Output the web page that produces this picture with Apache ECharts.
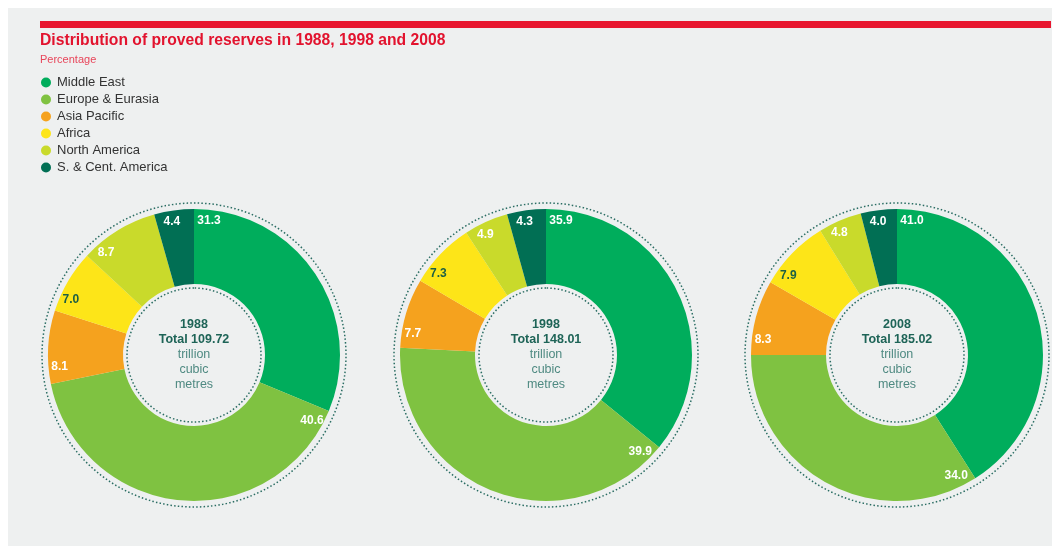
<!DOCTYPE html>
<html>
<head>
<meta charset="utf-8">
<script src="https://cdn.jsdelivr.net/npm/echarts@6/dist/echarts.min.js"></script>
<style>
  html, body { margin: 0; padding: 0; background: #ffffff; }
  #chart { width: 1060px; height: 546px; }
</style>
</head>
<body>
<div id="chart"></div>
<script>
// data
const regions = ['Middle East', 'Europe & Eurasia', 'Asia Pacific', 'Africa', 'North America', 'S. & Cent. America'];
const years = ['1988', '1998', '2008'];
const totals = ['109.72', '148.01', '185.02'];
const share1988 = [31.3, 40.6, 8.1, 7.0, 8.7, 4.4];
const share1998 = [35.9, 39.9, 7.7, 7.3, 4.9, 4.3];
const share2008 = [41.0, 34.0, 8.3, 7.9, 4.8, 4.0];
const shares = [share1988, share1998, share2008];

// look
const colors = ['#00ad5c', '#7fc241', '#f5a21e', '#fde518', '#c9da2b', '#016f54'];
const labelColors = ['#fff', '#fff', '#fff', '#1d5f45', '#fff', '#fff'];
const centers = [[194, 355], [546, 355], [897, 355]];
const rIn = 71, rOut = 146;

const mychart = echarts.init(document.getElementById('chart'));

// label sits just inside the outer edge, next to the slice's start boundary
function labelPos(si, di) {
    const vals = shares[si];
    const total = vals.reduce((a, b) => a + b, 0);
    let cum = 0;
    for (let i = 0; i < di; i++) cum += vals[i];
    const t = cum / total * 2 * Math.PI;
    const r = 134, d = 15;
    const c = centers[si];
    return {
        x: c[0] + r * Math.sin(t) + d * Math.cos(t),
        y: c[1] - r * Math.cos(t) + d * Math.sin(t)
    };
}

const series = [];
shares.forEach(function (vals, si) {
    series.push({
        type: 'pie',
        name: years[si],
        center: centers[si],
        radius: [rIn, rOut],
        startAngle: 90,
        clockwise: true,
        silent: true,
        itemStyle: { borderWidth: 0 },
        label: {
            show: true,
            position: 'inside',
            fontFamily: 'Liberation Sans',
            fontSize: 12,
            fontWeight: 'bold',
            formatter: p => p.value.toFixed(1)
        },
        labelLine: { show: false },
        labelLayout: function (params) {
            const p = labelPos(si, params.dataIndex);
            return { x: p.x, y: p.y, align: 'center', verticalAlign: 'middle' };
        },
        data: vals.map((v, i) => ({
            name: regions[i],
            value: v,
            itemStyle: { color: colors[i] },
            label: { color: labelColors[i] }
        }))
    });
});

// dotted rings + centre text
years.forEach(function (y, si) {
    series.push({
        type: 'pie',
        center: centers[si],
        radius: [67, 152],
        silent: true,
        z: 1,
        itemStyle: {
            color: 'rgba(0,0,0,0)',
            borderColor: '#2a6d63',
            borderWidth: 1.5,
            borderType: [1.5, 2.2]
        },
        label: {
            show: true,
            position: 'center',
            formatter: '{b|' + y + '}\n{b|Total ' + totals[si] + '}\n{n|trillion}\n{n|cubic}\n{n|metres}',
            rich: {
                b: { fontFamily: 'Liberation Sans', fontSize: 12.5, fontWeight: 'bold', color: '#1e6457', lineHeight: 15 },
                n: { fontFamily: 'Liberation Sans', fontSize: 12.5, color: '#4f8a82', lineHeight: 15 }
            }
        },
        labelLine: { show: false },
        emphasis: { disabled: true },
        data: [{ name: 'ring' + y, value: 1 }]
    });
});

mychart.setOption({
    animation: false,
    backgroundColor: '#ffffff',
    graphic: [
        { type: 'rect', z: -10, shape: { x: 8, y: 8, width: 1044, height: 538 }, style: { fill: '#eef0f0' } },
        { type: 'rect', z: -5, shape: { x: 40, y: 21, width: 1011, height: 7 }, style: { fill: '#e8162f' } }
    ],
    title: {
        text: 'Distribution of proved reserves in 1988, 1998 and 2008',
        subtext: 'Percentage',
        left: 40,
        top: 33,
        padding: 0,
        itemGap: 5,
        textStyle: { fontFamily: 'Liberation Sans', fontSize: 15.7, fontWeight: 'bold', color: '#e2132e' },
        subtextStyle: { fontFamily: 'Liberation Sans', fontSize: 11, color: '#e8455a' }
    },
    legend: {
        data: regions,
        orient: 'vertical',
        left: 41,
        top: 76,
        padding: 0,
        icon: 'circle',
        itemWidth: 10,
        itemHeight: 10,
        itemGap: 4,
        selectedMode: false,
        textStyle: { fontFamily: 'Liberation Sans', fontSize: 13, color: '#333333', padding: [0, 0, 0, 1] }
    },
    series: series
});
</script>
</body>
</html>
